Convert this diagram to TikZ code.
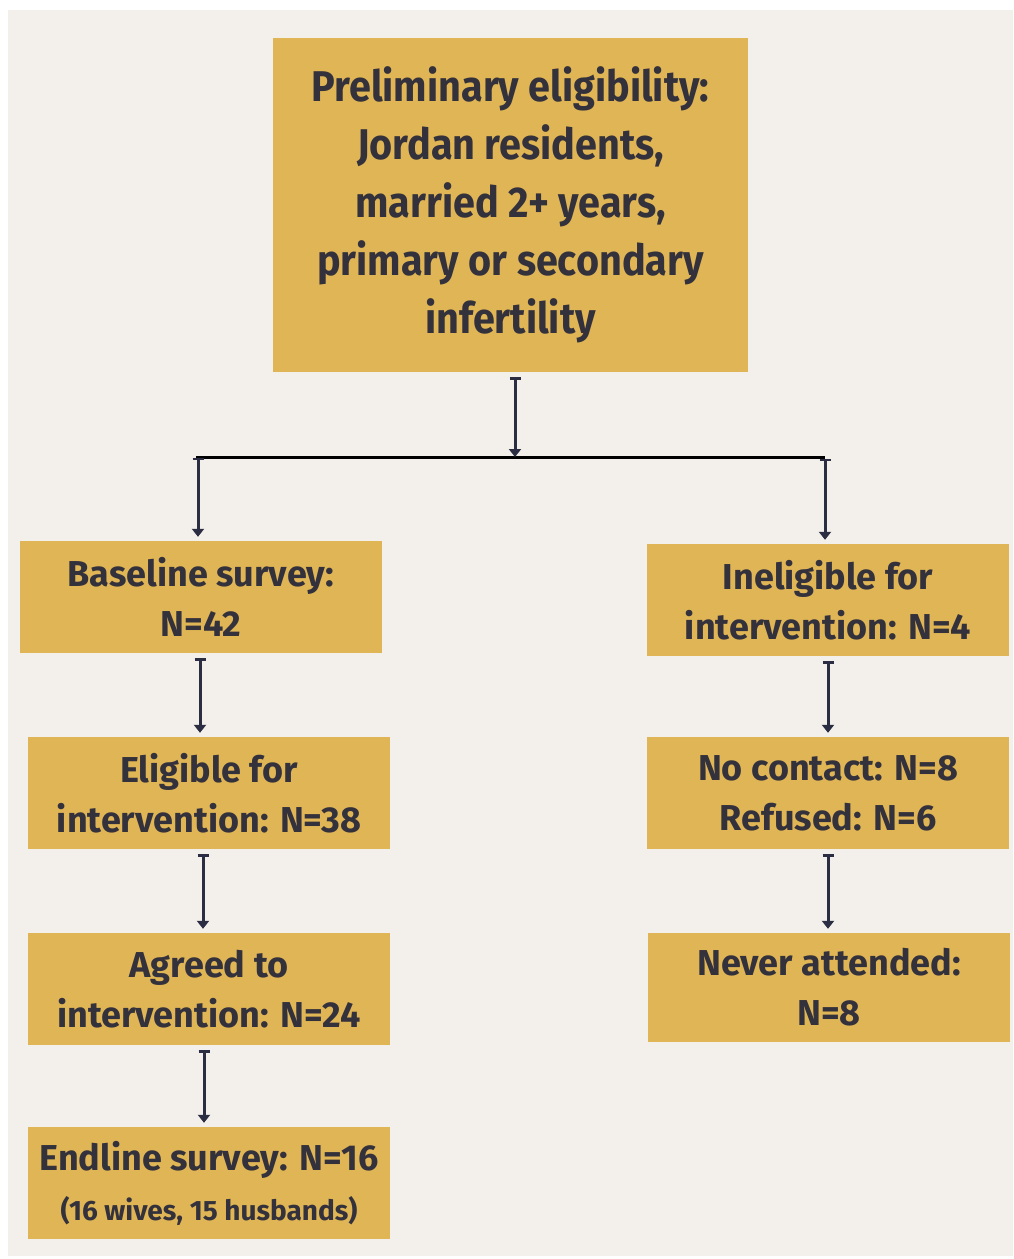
\documentclass[tikz,border=0pt]{standalone}
\usepackage{fontspec}
\setmainfont{Fira Sans}
\newfontfamily\topfont{Fira Sans}[FakeStretch=0.92]
\usetikzlibrary{arrows.meta}
\definecolor{bgc}{HTML}{F3F0EB}
\definecolor{boxc}{HTML}{E0B556}
\definecolor{txtc}{HTML}{33313B}
\definecolor{arrc}{HTML}{2B2D42}
\tikzset{
  box/.style={fill=boxc, draw=none, inner sep=0pt, align=center, text=txtc,
    minimum width=362pt, minimum height=112pt, font=\bfseries\fontsize{36}{50}\selectfont},
  flow/.style={draw=arrc, line width=3pt, arrows={Bar[width=11pt,line width=2.4pt]-Triangle[width=12pt,length=8pt]},
    shorten <=5pt, shorten >=4pt},
}
\begin{document}
\begin{tikzpicture}[x=1pt,y=-1pt]
\useasboundingbox (0,0) rectangle (1013,1259);
\fill[white] (0,0) rectangle (1013,1259);
\fill[bgc] (8,10) rectangle (1013,1256);

\node[box, minimum width=475pt, minimum height=334pt, font=\topfont\bfseries\fontsize{43}{58}\selectfont] (top) at (510.5,205)
  {Preliminary eligibility:\\Jordan residents,\\married 2+ years,\\primary or secondary\\infertility};

\node[box] (base) at (201,597) {Baseline survey:\\N=42};
\node[box] (inel) at (828,600) {Ineligible for\\intervention: N=4};
\node[box] (elig) at (209,793) {Eligible for\\intervention: N=38};
\node[box] (noc) at (828,793) {No contact: N=8\\Refused: N=6};
\node[box] (agr) at (209,989) {Agreed to\\intervention: N=24};
\node[box, minimum height=109pt] (nev) at (829,987.5) {Never attended:\\N=8};
\node[box] (endl) at (209,1183) {Endline survey: N=16\\{\fontsize{28}{50}\selectfont (16 wives, 15 husbands)}};

\coordinate (hl) at (196,457);
\coordinate (hr) at (825,457);
\coordinate (hc) at (515,457);
\draw[black, line width=3pt] (hl) -- (hr);

\draw[flow, shorten >=0pt] ([xshift=4.5pt]top.south) -- (hc);
\draw[flow, shorten <=1pt] ([xshift=2pt]hl) -- ([xshift=2pt]hl |- base.north);
\draw[flow, shorten <=2pt] (hr) -- (hr |- inel.north);
\draw[flow] ([xshift=-1pt]base.south) -- ([xshift=-1pt]base.south |- elig.north);
\draw[flow] ([xshift=-6pt]elig.south) -- ([xshift=-6pt]agr.north);
\draw[flow] ([xshift=-5pt]agr.south) -- ([xshift=-5pt]endl.north);
\draw[flow] (inel.south) -- (noc.north);
\draw[flow] (noc.south) -- (noc.south |- nev.north);
\end{tikzpicture}
\end{document}
